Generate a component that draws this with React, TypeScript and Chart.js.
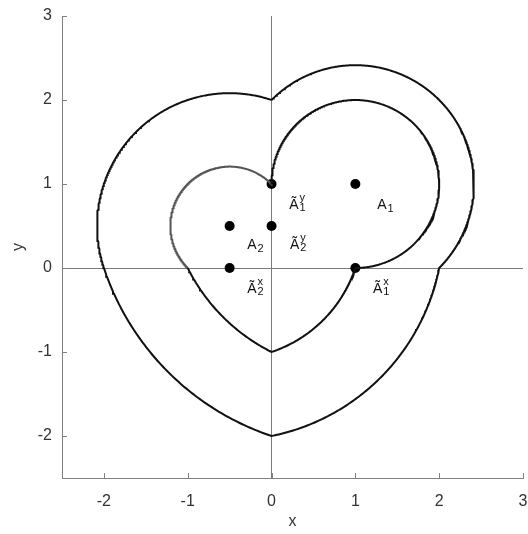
import React, { useEffect, useRef } from 'react';
import { Chart, registerables } from 'chart.js';

Chart.register(...registerables);

// Axis ranges and tick values
const xRange = [-2.5, 3];
const yRange = [-2.5, 3];
const xTicks = [-2, -1, 0, 1, 2, 3];
const yTicks = [-2, -1, 0, 1, 2, 3];

// Centres A1 and A2
const centerX = [1, -0.5];
const centerY = [1, 0.5];

// Inner boundary: corner points visited clockwise; each arc turns about the listed centre
const innerVertexX = [0, 1, 0, -1];
const innerVertexY = [1, 0, -1, 0];
const innerArcCenter = [0, 1, 0, 1];

// Outer boundary
const outerVertexX = [0, 2, 0, -2];
const outerVertexY = [2, 0, -2, 0];
const outerArcCenter = [0, 1, 0, 1];

// Marked points: A1, A2, Ã1^y, Ã2^y, Ã2^x, Ã1^x
const markerX = [1, -0.5, 0, 0, -0.5, 1];
const markerY = [1, 0.5, 1, 0.5, 0, 0];

// Point labels (base letter, superscript, subscript, anchor in data units)
const labelBase = ['A', 'A', 'Ã', 'Ã', 'Ã', 'Ã'];
const labelSup = ['', '', 'y', 'y', 'x', 'x'];
const labelSub = ['1', '2', '1', '2', '2', '1'];
const labelX = [1.26, -0.29, 0.21, 0.22, -0.29, 1.21];
const labelY = [0.7, 0.23, 0.7, 0.23, -0.3, -0.3];

type Pt = { x: number; y: number };

// Clockwise arc about centre c from point (x0,y0) to (x1,y1)
function arcPoints(ci: number, x0: number, y0: number, x1: number, y1: number): Pt[] {
  const cx = centerX[ci];
  const cy = centerY[ci];
  const r = Math.hypot(x0 - cx, y0 - cy);
  const a0 = Math.atan2(y0 - cy, x0 - cx);
  let a1 = Math.atan2(y1 - cy, x1 - cx);
  while (a1 >= a0) a1 -= 2 * Math.PI;
  const n = Math.max(2, Math.ceil(((a0 - a1) * 180) / Math.PI / 0.5));
  const pts: Pt[] = [];
  for (let i = 0; i <= n; i++) {
    const a = a0 + ((a1 - a0) * i) / n;
    pts.push({ x: cx + r * Math.cos(a), y: cy + r * Math.sin(a) });
  }
  pts[pts.length - 1] = { x: x1, y: y1 };
  return pts;
}

function boundary(vx: number[], vy: number[], vc: number[], from: number, to: number): Pt[] {
  let out: Pt[] = [];
  for (let i = from; i < to; i++) {
    const j = (i + 1) % vx.length;
    const seg = arcPoints(vc[i], vx[i], vy[i], vx[j], vy[j]);
    out = out.concat(i === from ? seg : seg.slice(1));
  }
  return out;
}

const FONT = "'Liberation Sans', Arial, Helvetica, sans-serif";

const inwardTicks = {
  id: 'inwardTicks',
  afterDraw(chart: any) {
    const { ctx, chartArea, scales } = chart;
    const len = 5;
    ctx.save();
    ctx.strokeStyle = '#808080';
    ctx.lineWidth = 1;
    ctx.beginPath();
    xTicks.forEach((v) => {
      const px = Math.round(scales.x.getPixelForValue(v)) + 0.5;
      ctx.moveTo(px, chartArea.bottom);
      ctx.lineTo(px, chartArea.bottom - len);
    });
    yTicks.forEach((v) => {
      const py = Math.round(scales.y.getPixelForValue(v)) + 0.5;
      ctx.moveTo(chartArea.left, py);
      ctx.lineTo(chartArea.left + len, py);
    });
    ctx.stroke();
    ctx.restore();
  },
};

const pointLabels = {
  id: 'pointLabels',
  afterDatasetsDraw(chart: any) {
    const { ctx, scales } = chart;
    ctx.save();
    ctx.fillStyle = '#111';
    ctx.textBaseline = 'alphabetic';
    ctx.textAlign = 'left';
    labelBase.forEach((base, i) => {
      const px = scales.x.getPixelForValue(labelX[i]);
      const py = scales.y.getPixelForValue(labelY[i]);
      ctx.font = `14px ${FONT}`;
      ctx.fillText(base, px, py);
      const w = ctx.measureText(base).width;
      ctx.font = `11px ${FONT}`;
      if (labelSup[i]) {
        ctx.fillText(labelSup[i], px + w + 1, py - 8);
        ctx.fillText(labelSub[i], px + w + 1, py + 2);
      } else {
        ctx.fillText(labelSub[i], px + w + 1, py + 3);
      }
    });
    ctx.restore();
  },
};

export default function App() {
  const ref = useRef<HTMLCanvasElement | null>(null);

  useEffect(() => {
    if (!ref.current) return;
    const outer = boundary(outerVertexX, outerVertexY, outerArcCenter, 0, 4);
    const innerMain = boundary(innerVertexX, innerVertexY, innerArcCenter, 0, 3);
    const innerLobe = boundary(innerVertexX, innerVertexY, innerArcCenter, 3, 4);
    const markers = markerX.map((x, i) => ({ x, y: markerY[i] }));

    const lineStyle = {
      showLine: true,
      pointRadius: 0,
      pointHoverRadius: 0,
      borderWidth: 2,
      borderJoinStyle: 'miter' as const,
      tension: 0,
      fill: false,
    };

    const chart = new Chart(ref.current, {
      type: 'scatter',
      data: {
        datasets: [
          { data: outer, borderColor: '#111', ...lineStyle },
          { data: innerMain, borderColor: '#111', ...lineStyle },
          { data: innerLobe, borderColor: '#555', ...lineStyle },
          {
            data: markers,
            showLine: false,
            pointRadius: 5,
            pointBackgroundColor: '#000',
            pointBorderColor: '#000',
            pointBorderWidth: 0,
          },
        ],
      },
      options: {
        responsive: false,
        animation: false,
        events: [],
        layout: { padding: { top: 16, right: 5, left: 0, bottom: 0 } },
        plugins: { legend: { display: false }, tooltip: { enabled: false } },
        scales: {
          x: {
            type: 'linear',
            min: xRange[0],
            max: xRange[1],
            afterBuildTicks: (s: any) => {
              s.ticks = xTicks.map((v) => ({ value: v }));
            },
            afterFit: (s: any) => {
              s.height = 56;
              s.paddingLeft = 0;
              s.paddingRight = 0;
            },
            border: { display: true, color: '#808080', width: 1 },
            grid: {
              drawTicks: false,
              color: (c: any) => (c.tick && c.tick.value === 0 ? '#7a7a7a' : 'rgba(0,0,0,0)'),
              lineWidth: 1,
            },
            ticks: {
              padding: 14,
              color: '#333',
              font: { family: FONT, size: 16 },
              callback: (v: any) => String(v),
            },
            title: {
              display: true,
              text: 'x',
              color: '#333',
              font: { family: FONT, size: 16 },
              padding: { top: 0, bottom: 3 },
            },
          },
          y: {
            type: 'linear',
            min: yRange[0],
            max: yRange[1],
            afterBuildTicks: (s: any) => {
              s.ticks = yTicks.map((v) => ({ value: v }));
            },
            afterFit: (s: any) => {
              s.width = 62;
              s.paddingTop = 0;
              s.paddingBottom = 0;
            },
            border: { display: true, color: '#808080', width: 1 },
            grid: {
              drawTicks: false,
              color: (c: any) => (c.tick && c.tick.value === 0 ? '#7a7a7a' : 'rgba(0,0,0,0)'),
              lineWidth: 1,
            },
            ticks: {
              padding: 10,
              color: '#333',
              font: { family: FONT, size: 16 },
              callback: (v: any) => String(v),
            },
            title: {
              display: true,
              text: 'y',
              color: '#333',
              font: { family: FONT, size: 16 },
              padding: { top: 9, bottom: 0 },
            },
          },
        },
      },
      plugins: [inwardTicks, pointLabels],
    });
    return () => chart.destroy();
  }, []);

  return (
    <div style={{ position: 'fixed', left: 0, top: 0, width: 528, height: 534, background: '#fff' }}>
      <canvas ref={ref} width={528} height={534} style={{ width: 528, height: 534, display: 'block' }} />
    </div>
  );
}
